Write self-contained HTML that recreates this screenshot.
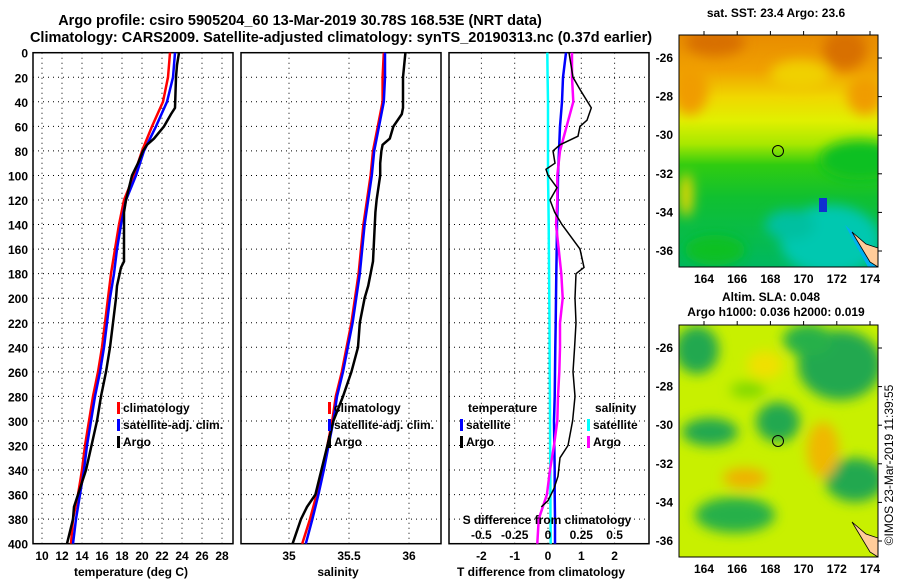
<!DOCTYPE html>
<html><head><meta charset="utf-8"><style>
body{margin:0;background:#fff}
svg{display:block;font-family:"Liberation Sans",sans-serif;font-weight:bold}
</style></head><body>
<svg id="c" width="900" height="580" viewBox="0 0 900 580">
<defs>
<filter id="bl" x="-30%" y="-30%" width="160%" height="160%"><feGaussianBlur stdDeviation="6"/></filter>
<clipPath id="m1"><rect x="679" y="35" width="199" height="232"/></clipPath>
<clipPath id="m2"><rect x="679" y="325" width="199" height="232"/></clipPath>
<linearGradient id="sstg" x1="0" y1="0" x2="0" y2="1">
<stop offset="0" stop-color="#e88c00"/><stop offset="0.15" stop-color="#f0a000"/>
<stop offset="0.27" stop-color="#f0d800"/><stop offset="0.37" stop-color="#e0f000"/>
<stop offset="0.47" stop-color="#a8e800"/><stop offset="0.56" stop-color="#30cc10"/>
<stop offset="0.7" stop-color="#10c030"/><stop offset="1" stop-color="#00b860"/></linearGradient>
</defs>
<g font-size="14.5" text-anchor="middle">
<text x="300" y="25">Argo profile: csiro 5905204_60 13-Mar-2019 30.78S 168.53E (NRT data)</text>
<text x="341" y="42">Climatology: CARS2009. Satellite-adjusted climatology: synTS_20190313.nc (0.37d earlier)</text>
</g>
<g id="p1"></g>
<g id="p2"></g>
<g id="p3"></g>
<g>
<text x="776" y="17" font-size="12" text-anchor="middle">sat. SST: 23.4 Argo: 23.6</text>
<g clip-path="url(#m1)">
<rect x="679" y="35" width="199" height="232" fill="url(#sstg)"/>
<g filter="url(#bl)">
<ellipse cx="715" cy="42" rx="30" ry="14" fill="#d87000"/>
<ellipse cx="845" cy="50" rx="22" ry="20" fill="#d87000"/>
<ellipse cx="690" cy="90" rx="18" ry="25" fill="#f09c00"/>
<ellipse cx="865" cy="95" rx="18" ry="20" fill="#f09c00"/>
<ellipse cx="800" cy="75" rx="30" ry="15" fill="#f0d000"/>
<ellipse cx="860" cy="160" rx="40" ry="20" fill="#10c020"/>
<ellipse cx="830" cy="240" rx="50" ry="35" fill="#00c8b0"/>
<ellipse cx="790" cy="225" rx="25" ry="15" fill="#00c0a0"/>
<ellipse cx="686" cy="195" rx="7" ry="22" fill="#e8d800"/>
<ellipse cx="715" cy="250" rx="30" ry="15" fill="#10c020"/>
</g>
<rect x="819" y="198" width="8" height="14" fill="#1030d0"/>
<polygon points="845,225 878,255 878,267 868,267" fill="#00b0f0"/>
<polygon points="852,232 866,244 878,248 878,267 870,262" fill="#ffcc99" stroke="#000" stroke-width="0.8"/>
</g>
<rect x="679" y="35" width="199" height="232" fill="none" stroke="#000"/>
<circle cx="778" cy="151" r="5.5" fill="none" stroke="#000"/>
</g>
<g>
<text x="771" y="301" font-size="12" text-anchor="middle">Altim. SLA: 0.048</text>
<text x="776" y="316" font-size="12" text-anchor="middle">Argo h1000: 0.036 h2000: 0.019</text>
<g clip-path="url(#m2)">
<rect x="679" y="325" width="199" height="232" fill="#c8f000"/>
<g filter="url(#bl)">
<ellipse cx="697" cy="350" rx="22" ry="24" fill="#20a850"/>
<ellipse cx="840" cy="365" rx="42" ry="35" fill="#20a850"/>
<ellipse cx="808" cy="340" rx="25" ry="16" fill="#28b048"/>
<ellipse cx="710" cy="432" rx="28" ry="14" fill="#20a850"/>
<ellipse cx="778" cy="422" rx="22" ry="20" fill="#20a850"/>
<ellipse cx="855" cy="480" rx="30" ry="22" fill="#20a850"/>
<ellipse cx="735" cy="515" rx="40" ry="18" fill="#28b048"/>
<ellipse cx="745" cy="478" rx="22" ry="10" fill="#f0b000"/>
<ellipse cx="823" cy="450" rx="16" ry="28" fill="#f0b800"/>
<ellipse cx="765" cy="365" rx="18" ry="14" fill="#f0e000"/>
<ellipse cx="748" cy="390" rx="18" ry="8" fill="#80d800"/>
</g>
<polygon points="852,522 866,534 878,538 878,557 870,552" fill="#ffcc99" stroke="#000" stroke-width="0.8"/>
</g>
<rect x="679" y="325" width="199" height="232" fill="none" stroke="#000"/>
<circle cx="778" cy="441" r="5.5" fill="none" stroke="#000"/>
</g>
<g id="maxes" font-size="12"></g>
<text transform="translate(893,465) rotate(-90)" font-size="12" font-weight="normal" text-anchor="middle">©IMOS 23-Mar-2019 11:39:55</text>
</svg>
<script>
const depthTicks=[0,20,40,60,80,100,120,140,160,180,200,220,240,260,280,300,320,340,360,380,400];
const depths=[0,20,40,60,80,100,120,140,160,180,200,220,240,260,280,300,320,340,360,380,400];
const tempClim=[22.8,22.6,22.1,21.0,20.0,19.2,18.2,17.7,17.3,16.9,16.6,16.3,16.0,15.6,15.1,14.7,14.3,14.0,13.6,13.1,12.9];
const tempSat=[23.3,23.1,22.5,21.4,20.2,19.4,18.4,17.9,17.5,17.2,16.8,16.5,16.2,15.8,15.3,14.9,14.5,14.2,13.8,13.4,13.1];
const argoDepths=[0,10,20,45,50,60,70,75,80,90,100,120,130,170,175,190,200,220,240,260,280,300,320,340,360,370,380,400];
const tempArgo=[23.7,23.5,23.4,23.3,22.9,22.2,21.2,20.5,20.1,19.6,19.0,18.4,18.2,18.2,17.9,17.5,17.4,17.1,16.8,16.4,15.9,15.5,14.95,14.4,13.6,13.2,13.1,12.5];
const salClim=[35.79,35.78,35.78,35.74,35.70,35.68,35.65,35.62,35.60,35.58,35.55,35.52,35.48,35.44,35.39,35.36,35.32,35.28,35.23,35.175,35.11];
const salSat=[35.80,35.80,35.79,35.75,35.71,35.69,35.66,35.63,35.61,35.59,35.56,35.53,35.49,35.45,35.40,35.37,35.33,35.29,35.245,35.195,35.14];
const salArgo=[35.97,35.96,35.95,35.95,35.94,35.87,35.84,35.78,35.77,35.76,35.76,35.73,35.72,35.70,35.69,35.66,35.63,35.59,35.575,35.52,35.45,35.37,35.32,35.27,35.22,35.15,35.1,35.03];
const dTsat=[0.54,0.45,0.42,0.36,0.33,0.30,0.29,0.27,0.26,0.25,0.24,0.23,0.22,0.21,0.20,0.18,0.19,0.20,0.20,0.21,0.21];
const dSsat=[-0.005,-0.003,0,0,0,0,0.003,0.005,0.007,0.008,0.01,0.011,0.012,0.013,0.014,0.015,0.016,0.017,0.018,0.019,0.02];
const dSargo=[0.18,0.18,0.19,0.14,0.09,0.07,0.07,0.06,0.08,0.10,0.11,0.09,0.09,0.085,0.075,0.07,0.045,0.015,-0.008,-0.07,-0.08];
const dTdepths=[0,20,30,45,55,60,68,75,80,90,95,100,110,120,130,140,160,175,180,200,220,240,260,280,300,320,330,345,355,365,370];
const dTargo=[0.63,0.75,0.96,1.3,1.17,0.96,0.9,0.36,0.15,0.21,-0.06,0,0.27,0.06,0.2,0.42,0.96,1.08,0.84,0.81,0.84,0.8,0.75,0.81,0.74,0.6,0.36,0.3,0.18,0,-0.2];
const tempTicks=[10,12,14,16,18,20,22,24,26,28];
const salTicks=[35,35.5,36];
const salGrid=[35,35.5,36];
const dTTicks=[-2,-1,0,1,2];
const dSTicks=[-0.5,-0.25,0,0.25,0.5];
const lonTicks=[164,166,168,170,172,174];
const latTicks=[-26,-28,-30,-32,-34,-36];

const NS='http://www.w3.org/2000/svg';
function mk(p,tag,at,txt){const e=document.createElementNS(NS,tag);for(const k in at)e.setAttribute(k,at[k]);if(txt!==undefined)e.textContent=txt;p.appendChild(e);return e;}
const yD=d=>52.7+d*1.2275;
const xT=t=>42+(t-10)*10;
const xS=s=>289+(s-35)*120;
const xDT=v=>548+v*33.3;
const xDS=v=>548+v*133.2;
function frame(g,x0,x1,grid,withY){
  for(const d of depthTicks){if(d>0&&d<400){const l=mk(g,'line',{x1:x0,x2:x1,y1:yD(d),y2:yD(d),stroke:'#000','stroke-dasharray':'1,4'});
  
  }
  if(withY){const t=mk(g,'text',{x:28,y:yD(d)+5,'font-size':12,'text-anchor':'end'},d);
  
  }}
  for(const x of grid){const l=mk(g,'line',{x1:x,x2:x,y1:yD(0),y2:yD(400),stroke:'#000','stroke-dasharray':'1,4'});
  
  }
  const r=mk(g,'rect',{x:x0,y:yD(0),width:x1-x0,height:yD(400)-yD(0),fill:'none',stroke:'#000','stroke-width':1.5});
  
  
}
function line(g,xs,ds,fx,col,w,name){
  const pts=xs.map((v,i)=>fx(v).toFixed(1)+','+yD(ds[i]).toFixed(1)).join(' ');
  const p=mk(g,'polyline',{points:pts,fill:'none',stroke:col,'stroke-width':w});
  
  
}
function leg(g,x,y,col,txt){
  mk(g,'rect',{x:x,y:y-10,width:3,height:12,fill:col});
  const t=mk(g,'text',{x:x+6,y:y,'font-size':12},txt);
  
  
}
function xlab(g,vals,fx,y,fs){for(const v of vals){const t=mk(g,'text',{x:fx(v),y:y,'font-size':fs||12,'text-anchor':'middle'},v);
  
  }}
function title(g,x,y,txt){const t=mk(g,'text',{x:x,y:y,'font-size':12,'text-anchor':'middle'},txt);
  
  }

const p1=document.getElementById('p1');
frame(p1,33,233,tempTicks.map(xT),true);
line(p1,tempClim,depths,xT,'#f00',2.5,'temp-climatology-line');
line(p1,tempSat,depths,xT,'#00f',2.5,'temp-satellite-line');
line(p1,tempArgo,argoDepths,xT,'#000',2.5,'temp-argo-line');
xlab(p1,tempTicks,xT,560);
title(p1,131,576,'temperature (deg C)');
leg(p1,117,412,'#f00','climatology');leg(p1,117,429,'#00f','satellite-adj. clim.');leg(p1,117,446,'#000','Argo');

const p2=document.getElementById('p2');
frame(p2,241,441,salGrid.map(xS),false);
line(p2,salClim,depths,xS,'#f00',2.5,'sal-climatology-line');
line(p2,salSat,depths,xS,'#00f',2.5,'sal-satellite-line');
line(p2,salArgo,argoDepths,xS,'#000',2.5,'sal-argo-line');
xlab(p2,salTicks,xS,560);
title(p2,338,576,'salinity');
leg(p2,328,412,'#f00','climatology');leg(p2,328,429,'#00f','satellite-adj. clim.');leg(p2,328,446,'#000','Argo');

const p3=document.getElementById('p3');
frame(p3,449,649,dTTicks.map(xDT),false);
line(p3,dSsat,depths,xDS,'#0ff',2.5,'s-diff-satellite-line');
line(p3,dTsat,depths,xDT,'#00f',2.5,'t-diff-satellite-line');
line(p3,dSargo,depths,xDS,'#f0f',2.5,'s-diff-argo-line');
line(p3,dTargo,dTdepths,xDT,'#000',1.5,'t-diff-argo-line');
xlab(p3,dTTicks,xDT,560);
title(p3,541,576,'T difference from climatology');
title(p3,547,524,'S difference from climatology');
xlab(p3,dSTicks,xDS,539);
let tt=mk(p3,'text',{x:468,y:412,'font-size':12},'temperature');


tt=mk(p3,'text',{x:595,y:412,'font-size':12},'salinity');


leg(p3,460,429,'#00f','satellite');leg(p3,460,446,'#000','Argo');
leg(p3,587,429,'#0ff','satellite');leg(p3,587,446,'#f0f','Argo');

const ma=document.getElementById('maxes');
const xLon=l=>704+(l-164)*16.6;
for(const [top,lblY] of [[35,283],[325,573]]){
  const yLat=la=>top+23+(-26-la)*19.3;
  for(const l of lonTicks){mk(ma,'line',{x1:xLon(l),x2:xLon(l),y1:top,y2:top-4,stroke:'#000'});
    const t=mk(ma,'text',{x:xLon(l),y:lblY,'text-anchor':'middle'},l);
    
    }
  for(const la of latTicks){mk(ma,'line',{x1:878,x2:882,y1:yLat(la),y2:yLat(la),stroke:'#000'});
    const t=mk(ma,'text',{x:673,y:yLat(la)+4,'text-anchor':'end'},la);
    
    }
}
</script>
</body></html>
